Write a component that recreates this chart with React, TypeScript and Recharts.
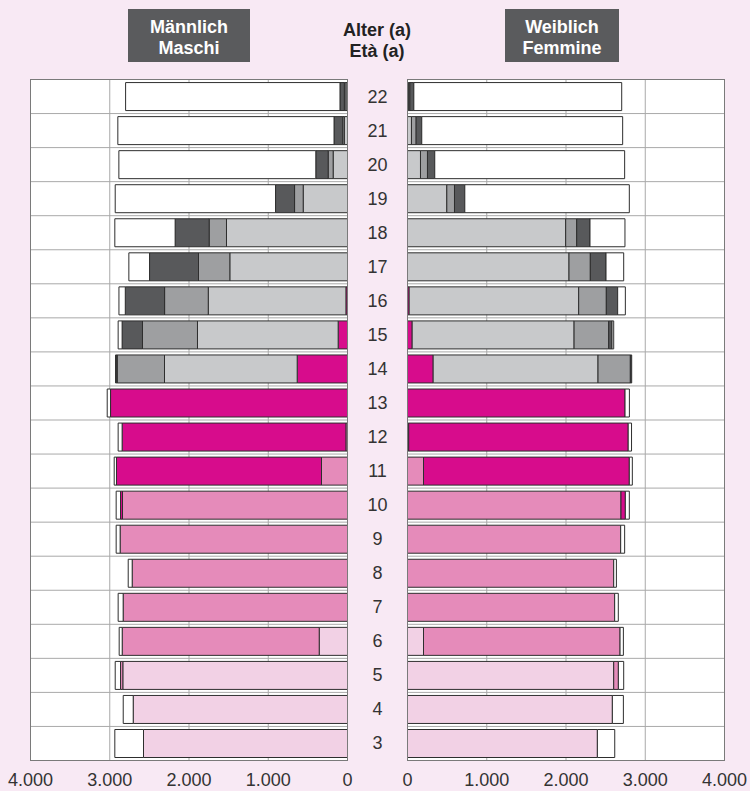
import React from 'react';
import { BarChart, Bar, XAxis, YAxis, CartesianGrid } from 'recharts';

// Age categories, top to bottom
const ages = ['22', '21', '20', '19', '18', '17', '16', '15', '14', '13', '12', '11', '10', '9', '8', '7', '6', '5', '4', '3'];
const xTicks = [0, 1000, 2000, 3000, 4000];

// Male (Männlich / Maschi) – stacked segments from the axis outward
const maleKindergarten = [0, 0, 0, 0, 0, 0, 0, 0, 0, 0, 0, 0, 0, 0, 0, 0, 357, 2835, 2704, 2574];
const malePrimary = [0, 0, 0, 0, 0, 0, 0, 0, 0, 0, 20, 328, 2839, 2869, 2717, 2831, 2486, 29, 0, 0];
const maleLowerSecondary = [0, 0, 0, 0, 0, 0, 20, 118, 635, 2990, 2824, 2587, 25, 0, 0, 0, 0, 0, 0, 0];
const maleUpperSecondary = [20, 40, 181, 559, 1527, 1485, 1737, 1775, 1674, 0, 0, 0, 0, 0, 0, 0, 0, 0, 0, 0];
const maleVocational = [20, 20, 63, 109, 219, 395, 551, 694, 597, 0, 0, 0, 0, 0, 0, 0, 0, 0, 0, 0];
const maleOther = [55, 110, 156, 240, 429, 618, 496, 257, 10, 0, 0, 0, 0, 0, 0, 0, 0, 0, 0, 0];
const maleNone = [2705, 2728, 2485, 2023, 761, 261, 80, 50, 11, 42, 50, 29, 55, 50, 50, 63, 38, 67, 126, 362];

// Female (Weiblich / Femmine)
const femaleKindergarten = [0, 0, 0, 0, 0, 0, 0, 0, 0, 0, 0, 0, 0, 0, 0, 0, 202, 2602, 2585, 2396];
const femalePrimary = [0, 0, 0, 0, 0, 0, 0, 0, 0, 0, 15, 202, 2694, 2690, 2602, 2614, 2480, 59, 0, 0];
const femaleLowerSecondary = [0, 0, 0, 0, 0, 0, 21, 59, 324, 2745, 2770, 2597, 55, 0, 0, 0, 0, 0, 0, 0];
const femaleUpperSecondary = [15, 50, 164, 496, 1996, 2038, 2139, 2043, 2080, 0, 0, 0, 0, 0, 0, 0, 0, 0, 0, 0];
const femaleVocational = [15, 59, 88, 97, 139, 269, 349, 437, 408, 0, 0, 0, 0, 0, 0, 0, 0, 0, 0, 0];
const femaleOther = [50, 71, 92, 130, 168, 198, 143, 42, 17, 0, 0, 0, 0, 0, 0, 0, 0, 0, 0, 0];
const femaleNone = [2623, 2535, 2396, 2076, 441, 223, 97, 21, 0, 55, 42, 38, 50, 50, 34, 46, 42, 67, 139, 219];

const seriesKeys = ['kindergarten', 'primary', 'lowerSecondary', 'upperSecondary', 'vocational', 'other', 'none'];
const seriesColors = ['#f2d1e5', '#e58bba', '#d70c8c', '#c8c9cb', '#9e9fa1', '#58595b', '#ffffff'];

const maleData = ages.map((age, i) => ({
  age,
  kindergarten: maleKindergarten[i],
  primary: malePrimary[i],
  lowerSecondary: maleLowerSecondary[i],
  upperSecondary: maleUpperSecondary[i],
  vocational: maleVocational[i],
  other: maleOther[i],
  none: maleNone[i],
}));

const femaleData = ages.map((age, i) => ({
  age,
  kindergarten: femaleKindergarten[i],
  primary: femalePrimary[i],
  lowerSecondary: femaleLowerSecondary[i],
  upperSecondary: femaleUpperSecondary[i],
  vocational: femaleVocational[i],
  other: femaleOther[i],
  none: femaleNone[i],
}));

const FONT = '"Liberation Sans", Arial, Helvetica, sans-serif';

const fmt = (v: number) => String(v).replace(/\B(?=(\d{3})+(?!\d))/g, '.');

const rowLines = ({ offset }: any) =>
  Array.from({ length: ages.length + 1 }, (_, i) => offset.top + (i * offset.height) / ages.length);

const AgeTick = (props: any) => (
  <text
    x={props.x}
    y={props.y}
    textAnchor="middle"
    dominantBaseline="central"
    fontSize={18}
    fill="#333"
    fontFamily={FONT}
  >
    {props.payload.value}
  </text>
);

const renderBars = () =>
  seriesKeys.map((k, i) => (
    <Bar
      key={k}
      dataKey={k}
      stackId="s"
      fill={seriesColors[i]}
      stroke="#2e2e2e"
      strokeWidth={1}
      isAnimationActive={false}
    />
  ));

const boxStyle: React.CSSProperties = {
  position: 'absolute',
  top: 9,
  height: 53,
  background: '#5a5b5d',
  color: '#fff',
  fontFamily: FONT,
  fontWeight: 'bold',
  fontSize: 18,
  lineHeight: '21px',
  textAlign: 'center',
  boxSizing: 'border-box',
  paddingTop: 8,
};

const borderStyle: React.CSSProperties = {
  position: 'absolute',
  top: 79,
  width: 318,
  height: 682,
  border: '1px solid #7a7a7a',
  boxSizing: 'border-box',
  pointerEvents: 'none',
};

export default function App() {
  return (
    <div
      style={{
        position: 'absolute',
        left: 0,
        top: 0,
        width: 750,
        height: 791,
        background: '#f8e9f4',
        overflow: 'hidden',
      }}
    >
      <div style={{ ...boxStyle, left: 128, width: 122 }}>
        Männlich
        <br />
        Maschi
      </div>
      <div style={{ ...boxStyle, left: 505, width: 114 }}>
        Weiblich
        <br />
        Femmine
      </div>
      <div
        style={{
          position: 'absolute',
          left: 327,
          width: 100,
          top: 20,
          fontFamily: FONT,
          fontWeight: 'bold',
          fontSize: 18,
          lineHeight: '21px',
          textAlign: 'center',
          color: '#222',
        }}
      >
        Alter (a)
        <br />
        Età (a)
      </div>

      <div style={{ position: 'absolute', left: 0, top: 0 }}>
        <BarChart
          layout="vertical"
          width={750}
          height={791}
          data={maleData}
          margin={{ top: 79.5, right: 342.5, bottom: 0.5, left: 30.5 }}
          barCategoryGap="9%"
        >
          <CartesianGrid fill="#ffffff" stroke="#a9a9a9" horizontalCoordinatesGenerator={rowLines} />
          <XAxis
            type="number"
            domain={[0, 4000]}
            ticks={xTicks}
            reversed
            interval={0}
            allowDataOverflow
            tickFormatter={fmt}
            tickLine={false}
            axisLine={false}
            tickSize={0}
            tickMargin={13}
            height={30}
            tick={{ fontSize: 18, fill: '#333', fontFamily: FONT }}
          />
          <YAxis
            type="category"
            dataKey="age"
            orientation="right"
            width={60}
            interval={0}
            tickLine={false}
            axisLine={false}
            tickSize={0}
            tickMargin={30}
            tick={AgeTick}
          />
          {renderBars()}
        </BarChart>
      </div>

      <div style={{ position: 'absolute', left: 0, top: 0 }}>
        <BarChart
          layout="vertical"
          width={750}
          height={791}
          data={femaleData}
          margin={{ top: 79.5, right: 25.5, bottom: 0.5, left: 407.5 }}
          barCategoryGap="9%"
        >
          <CartesianGrid fill="#ffffff" stroke="#a9a9a9" horizontalCoordinatesGenerator={rowLines} />
          <XAxis
            type="number"
            domain={[0, 4000]}
            ticks={xTicks}
            interval={0}
            allowDataOverflow
            tickFormatter={fmt}
            tickLine={false}
            axisLine={false}
            tickSize={0}
            tickMargin={13}
            height={30}
            tick={{ fontSize: 18, fill: '#333', fontFamily: FONT }}
          />
          <YAxis type="category" dataKey="age" hide />
          {renderBars()}
        </BarChart>
      </div>

      <div style={{ ...borderStyle, left: 30 }} />
      <div style={{ ...borderStyle, left: 407 }} />
    </div>
  );
}
